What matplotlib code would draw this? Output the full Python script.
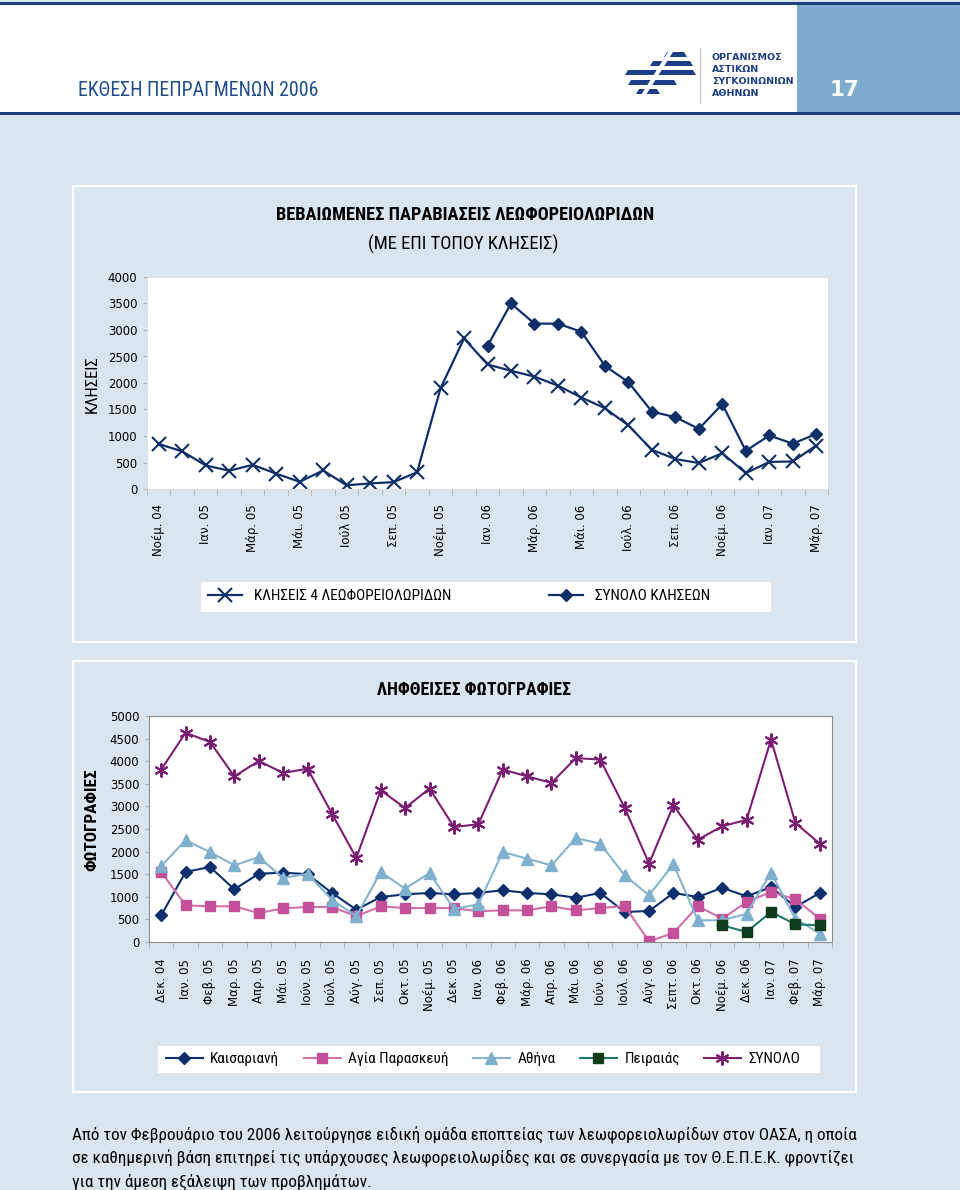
import numpy as np
import matplotlib.pyplot as plt
from matplotlib.patches import Rectangle, Polygon
from matplotlib.ticker import FixedLocator
from matplotlib import font_manager

W, H = 960, 1190

# ---- data -------------------------------------------------------------
call_months = ['Νοέμ. 04', 'Δεκ. 04', 'Ιαν. 05', 'Φεβ. 05', 'Μάρ. 05', 'Απρ. 05',
               'Μάι. 05', 'Ιούν. 05', 'Ιούλ 05', 'Αύγ. 05', 'Σεπ. 05', 'Οκτ. 05',
               'Νοέμ. 05', 'Δεκ. 05', 'Ιαν. 06', 'Φεβ. 06', 'Μάρ. 06', 'Απρ. 06',
               'Μάι. 06', 'Ιούν. 06', 'Ιούλ. 06', 'Αύγ. 06', 'Σεπ. 06', 'Οκτ. 06',
               'Νοέμ. 06', 'Δεκ. 06', 'Ιαν. 07', 'Φεβ. 07', 'Μάρ. 07']
calls_4lanes = [850, 710, 445, 345, 455, 290, 135, 350, 70, 105, 130, 315, 1900, 2840,
                2350, 2230, 2120, 1950, 1725, 1525, 1200, 740, 565, 490, 675, 300,
                510, 520, 820]
calls_total = [np.nan] * 14 + [2700, 3500, 3120, 3120, 2965, 2325, 2015, 1460, 1355,
                               1135, 1600, 720, 1010, 855, 1040]

photo_months = ['Δεκ. 04', 'Ιαν. 05', 'Φεβ. 05', 'Μαρ. 05', 'Απρ. 05', 'Μάι. 05',
                'Ιούν. 05', 'Ιούλ. 05', 'Αύγ. 05', 'Σεπ. 05', 'Οκτ. 05', 'Νοέμ. 05',
                'Δεκ. 05', 'Ιαν. 06', 'Φεβ. 06', 'Μάρ. 06', 'Απρ. 06', 'Μάι. 06',
                'Ιούν. 06', 'Ιούλ. 06', 'Αύγ. 06', 'Σεπτ. 06', 'Οκτ. 06', 'Νοέμ. 06',
                'Δεκ. 06', 'Ιαν. 07', 'Φεβ. 07', 'Μάρ. 07']
kaisariani = [590, 1550, 1660, 1165, 1510, 1535, 1500, 1085, 715, 995, 1055, 1085, 1055,
              1085, 1145, 1085, 1055, 980, 1085, 665, 685, 1085, 995, 1200, 1010, 1215,
              775, 1085]
agia_paraskevi = [1550, 810, 790, 790, 640, 745, 775, 775, 570, 790, 750, 750, 750, 680,
                  700, 700, 790, 700, 750, 795, 15, 200, 795, 515, 885, 1105, 945, 515]
athina = [1680, 2250, 1990, 1695, 1880, 1415, 1510, 935, 570, 1550, 1180, 1525, 730, 835,
          1990, 1845, 1695, 2300, 2175, 1475, 1035, 1720, 480, 480, 625, 1535, 515, 185]
peiraias = [np.nan] * 23 + [370, 220, 665, 390, 370]
photos_total = [3815, 4630, 4425, 3665, 4005, 3740, 3835, 2840, 1860, 3355, 2965, 3395,
                2545, 2605, 3815, 3665, 3520, 4070, 4035, 2970, 1735, 3025, 2265, 2560,
                2705, 4480, 2635, 2175]

text_lines = [
    'Από τον Φεβρουάριο του 2006 λειτούργησε ειδική ομάδα εποπτείας των λεωφορειολωρίδων στον ΟΑΣΑ, η οποία',
    'σε καθημερινή βάση επιτηρεί τις υπάρχουσες λεωφορειολωρίδες και σε συνεργασία με τον Θ.Ε.Π.Ε.Κ. φροντίζει',
    'για την άμεση εξάλειψη των προβλημάτων.',
]

# ---- style ------------------------------------------------------------
page_bg = '#d9e6ef'
navy = '#1d3f7c'
dark = '#0f2f68'


def pick_font(cands):
    # first condensed family that really has Greek glyphs
    for name in cands:
        for f in font_manager.fontManager.ttflist:
            if f.name != name:
                continue
            try:
                if font_manager.get_font(f.fname).get_char_index(ord('Ω')):
                    return name
            except Exception:
                pass
    return None


narrow = pick_font(['Roboto Condensed', 'Fira Sans Condensed', 'Open Sans Condensed',
                    'Ubuntu Condensed', 'PT Sans Narrow', 'IBM Plex Sans Condensed',
                    'Sofia Sans Condensed', 'Encode Sans Condensed'])
k = 1.0
if narrow is None:
    narrow, k = 'DejaVu Sans', 0.8
NF = [narrow, 'DejaVu Sans']


def box(x0, y0, x1, y1):
    # pixel box, origin top-left -> figure fraction
    return [x0 / W, 1 - y1 / H, (x1 - x0) / W, (y1 - y0) / H]


fig = plt.figure(figsize=(9.6, 11.9), dpi=100)
fig.patch.set_facecolor(page_bg)

bg = fig.add_axes([0, 0, 1, 1])
bg.set_xlim(0, W)
bg.set_ylim(H, 0)
bg.axis('off')

# header band
bg.add_patch(Rectangle((0, 4), W, 109, fc='white', ec='none'))
bg.add_patch(Rectangle((0, 2), W, 2.5, fc=navy, ec='none'))
bg.add_patch(Rectangle((0, 112), W, 2.5, fc=navy, ec='none'))
bg.add_patch(Rectangle((797, 4.5), W - 797, 107.5, fc='#7eaccc', ec='none'))
bg.text(78, 91, 'ΕΚΘΕΣΗ ΠΕΠΡΑΓΜΕΝΩΝ 2006', fontsize=14.3 * k, family=NF, color='#1f4e8a',
        va='center', ha='left')
bg.text(844, 90, '17', fontsize=15.5, color='white', fontweight='bold', va='center',
        ha='center')

# logo (rough)
stripes = [(52, 664, 684), (61, 650, 690), (70, 625, 693), (80, 628, 674), (89, 636, 657)]
for y, xa, xb in stripes:
    bg.add_patch(Polygon([(xa + 3, y), (xb, y), (xb + 3, y + 5), (xa, y + 5)],
                         closed=True, fc='#1d3f88', ec='none'))
bg.plot([641, 673], [99, 48], color='white', lw=3)
bg.plot([700, 700], [48, 103], color='#c8c8c8', lw=1)
for i, s in enumerate(['ΟΡΓΑΝΙΣΜΟΣ', 'ΑΣΤΙΚΩΝ', 'ΣΥΓΚΟΙΝΩΝΙΩΝ', 'ΑΘΗΝΩΝ']):
    bg.text(712, 57 + i * 12.3, s, fontsize=6.8, fontweight='bold', color='#1d3f88',
            va='center', ha='left')

# chart frames and legend boxes
bg.add_patch(Rectangle((73, 186), 783, 456, fill=False, ec='white', lw=1.5))
bg.add_patch(Rectangle((73, 661), 783, 431, fill=False, ec='white', lw=1.5))
bg.add_patch(Rectangle((200, 581), 571, 31, fc='white', ec='#e4e4e4', lw=0.8))
bg.add_patch(Rectangle((157, 1045), 663, 28, fc='white', ec='#e4e4e4', lw=0.8))

# titles
bg.text(465, 215, 'ΒΕΒΑΙΩΜΕΝΕΣ ΠΑΡΑΒΙΑΣΕΙΣ ΛΕΩΦΟΡΕΙΟΛΩΡΙΔΩΝ', fontsize=13.2 * k,
        fontweight='bold', family=NF, ha='center', va='center')
bg.text(463, 244, '(ΜΕ ΕΠΙ ΤΟΠΟΥ ΚΛΗΣΕΙΣ)', fontsize=13.4 * k, family=NF,
        ha='center', va='center')
bg.text(474, 690, 'ΛΗΦΘΕΙΣΕΣ ΦΩΤΟΓΡΑΦΙΕΣ', fontsize=12.8 * k, fontweight='bold',
        family=NF, ha='center', va='center')
bg.text(92, 384, 'ΚΛΗΣΕΙΣ', fontsize=12 * k, family=NF, rotation=90,
        ha='center', va='center')
bg.text(92, 820, 'ΦΩΤΟΓΡΑΦΙΕΣ', fontsize=12.3 * k, family=NF, fontweight='bold',
        rotation=90, ha='center', va='center')

for i, line in enumerate(text_lines):
    bg.text(72, 1135 + i * 23.3, line, fontsize=12.3 * k, family=NF, ha='left', va='center')


def style_axes(ax, n, labels, step, ymax, ystep, spine_col, pad):
    ax.set_facecolor('white')
    ax.set_xlim(-0.5, n - 0.5)
    ax.set_ylim(0, ymax)
    ax.set_yticks(np.arange(0, ymax + 1, ystep))
    idx = np.arange(0, n, step)
    ax.set_xticks(idx)
    ax.set_xticklabels([labels[i] for i in idx], rotation=90, fontsize=8.5)
    ax.xaxis.set_minor_locator(FixedLocator(np.arange(-0.5, n, 1)))
    ax.tick_params(axis='x', which='major', length=0, pad=pad)
    ax.tick_params(axis='x', which='minor', length=4, color='#b0b0b0')
    ax.tick_params(axis='y', length=3, color='#b0b0b0', labelsize=8.5, pad=4)
    for sp in ax.spines.values():
        sp.set_color(spine_col)
        sp.set_linewidth(0.8)


# ---- top chart: calls ---------------------------------------------------
ax1 = fig.add_axes(box(147, 277, 828, 489))
x1 = np.arange(len(call_months))
ax1.plot(x1, calls_4lanes, color=dark, lw=1.6, marker='x', markersize=9.5, mew=1.5,
         label='ΚΛΗΣΕΙΣ 4 ΛΕΩΦΟΡΕΙΟΛΩΡΙΔΩΝ')
ax1.plot(x1, calls_total, color=dark, lw=1.6, marker='D', markersize=6.5,
         label='ΣΥΝΟΛΟ ΚΛΗΣΕΩΝ')
style_axes(ax1, len(call_months), call_months, 2, 4000, 500, '#e2e2e2', 11)
ax1.legend(loc='center left', bbox_to_anchor=(208 / W, 1 - 596.5 / H),
           bbox_transform=fig.transFigure, ncol=2, frameon=False, borderpad=0,
           borderaxespad=0, handlelength=2.2, handletextpad=0.8, columnspacing=6.4,
           prop={'family': NF, 'size': 11 * k})

# ---- bottom chart: photos ------------------------------------------------
ax2 = fig.add_axes(box(149, 716, 832, 942))
x2 = np.arange(len(photo_months))
ax2.plot(x2, kaisariani, color='#0c2f6e', lw=1.5, marker='D', markersize=6,
         label='Καισαριανή')
ax2.plot(x2, agia_paraskevi, color='#d070a8', lw=1.5, marker='s', markersize=6.5,
         mfc='#c4509a', mec='#c4509a', label='Αγία Παρασκευή')
ax2.plot(x2, athina, color='#86b4d0', lw=1.5, marker='^', markersize=8.5,
         mfc='#7fb0cd', mec='#7fb0cd', label='Αθήνα')
ax2.plot(x2, peiraias, color='#1a7a6c', lw=1.5, marker='s', markersize=6.5,
         mfc='#0f3a1c', mec='#0f3a1c', label='Πειραιάς')
ax2.plot(x2, photos_total, color='#7a1e73', lw=1.5, marker=(6, 2, 0), markersize=10,
         mew=1.5, label='ΣΥΝΟΛΟ')
style_axes(ax2, len(photo_months), photo_months, 1, 5000, 500, '#8c8c8c', 12)
ax2.legend(loc='center left', bbox_to_anchor=(166 / W, 1 - 1059 / H),
           bbox_transform=fig.transFigure, ncol=5, frameon=False, borderpad=0,
           borderaxespad=0, handlelength=2.4, handletextpad=0.5, columnspacing=1.6,
           prop={'family': NF, 'size': 11 * k})

fig.savefig('out.png', dpi=100, facecolor=fig.get_facecolor())
